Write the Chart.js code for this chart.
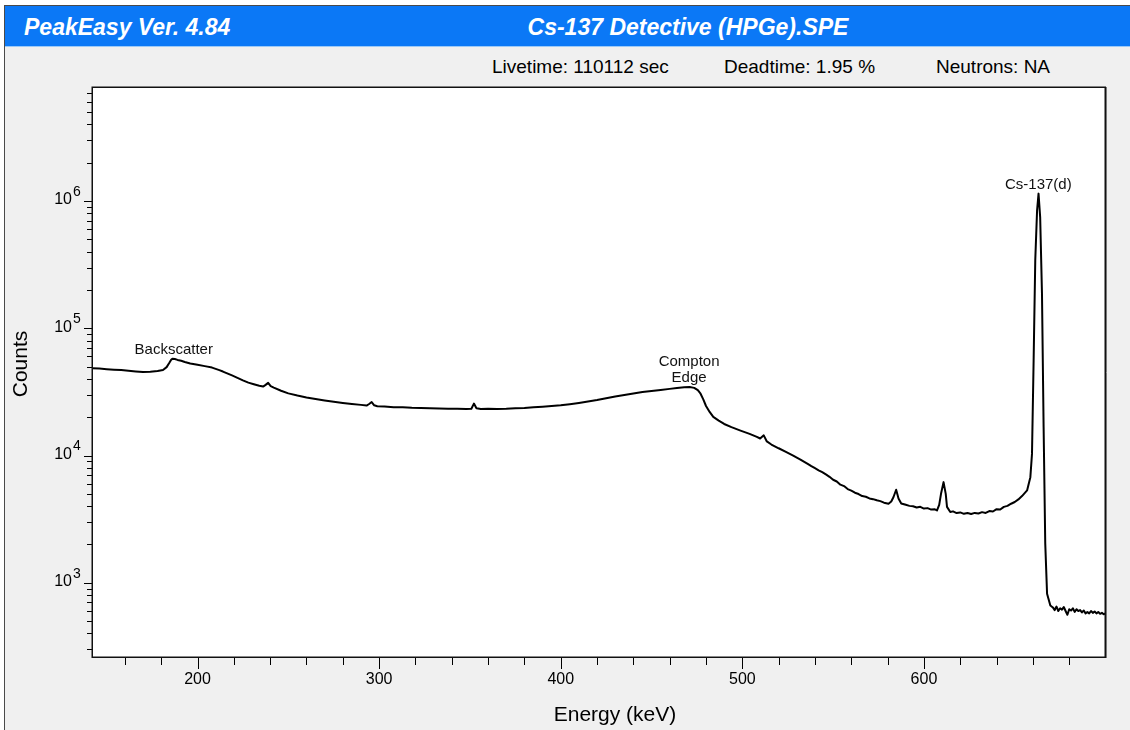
<!DOCTYPE html>
<html>
<head>
<meta charset="utf-8">
<title>Cs-137 Detective (HPGe).SPE</title>
<script src="https://cdn.jsdelivr.net/npm/chart.js@4.4.1/dist/chart.umd.min.js"></script>
<style>
  html, body { margin: 0; padding: 0; background: #fff; }
  body { width: 1130px; height: 730px; overflow: hidden; position: relative; font-family: "Liberation Sans", Arial, sans-serif; }
  #frame { position: absolute; left: 4px; top: 5px; width: 1126px; height: 725px; background: #f0f0f0; border-left: 1px solid #4a4a4a; border-top: 1px solid #4a4a4a; }
  #titlebar { position: absolute; left: 0; top: 0; right: 0; height: 40px; background: #0b78f6; border-bottom: 1px solid #9ccaf8; color: #fff; font-weight: bold; font-style: italic; font-size: 23px; z-index: 2; }
  #app-name { position: absolute; left: 19px; top: 8px; }
  #file-name { position: absolute; left: 433px; width: 500px; top: 8px; text-align: center; }
  .info { position: absolute; top: 50px; font-size: 19px; color: #000; }
  #chart-box { position: absolute; left: 0; top: 0; width: 1130px; height: 730px; z-index: 1; }
</style>
</head>
<body>
<div id="frame">
  <div id="titlebar">
    <span id="app-name">PeakEasy Ver. 4.84</span>
    <span id="file-name">Cs-137 Detective (HPGe).SPE</span>
  </div>
  <div class="info" style="left:487px">Livetime: 110112 sec</div>
  <div class="info" style="left:719px">Deadtime: 1.95 %</div>
  <div class="info" style="left:931px">Neutrons: NA</div>
</div>
<div id="chart-box"><canvas id="spectrum"></canvas></div>

<script>
// spectrum channels (keV) and counts
const energyKeV = [
  142, 146, 150, 154, 158, 162, 166, 170, 174, 178, 181, 183, 184.5, 185.5, 186.2, 187.5, 189, 191, 193, 196,
  200, 204, 208, 212, 214, 216, 219, 222, 225, 228, 231, 234, 236.1, 237.5, 238.9, 240.3, 242, 246, 250, 255,
  260, 265, 270, 275, 280, 285, 290, 293.1, 294.5, 295.9, 297.3, 299, 303, 308, 313, 318, 323, 328, 333, 338,
  343, 348, 350.8, 352.2, 353.6, 356, 360, 365, 370, 375, 380, 385, 390, 395, 400, 405, 410, 415, 420, 425,
  430, 435, 440, 445, 450, 455, 460, 464, 468, 471, 473.5, 475.5, 477, 478.5, 480, 482, 484, 487, 490, 494,
  499, 504, 508, 509.8, 511.8, 513.5, 516, 520, 524, 528, 532,
  536, 538, 540, 542, 544, 546, 548, 550, 552, 554, 556, 558, 560, 562, 564, 566, 568, 570, 572, 574,
  576, 578, 580.5, 582, 583.2, 584.7, 586, 587.5, 590, 592, 594, 596, 598, 600, 602, 604, 606, 607.2, 608.4, 609.4,
  610.8, 612, 612.7, 614.5, 616, 618, 620, 622, 624, 626, 628, 630, 632, 634, 636, 638, 640, 642, 644, 646,
  648, 650, 652, 654, 656.8, 658.6, 659.5, 660.4, 661.3, 662.3, 663.1, 664.0, 665.0, 665.9, 666.8, 667.8, 669.6, 671, 672, 673,
  674, 675, 676, 677, 678, 679, 680, 681, 682, 683, 684, 685, 686, 687, 688, 689, 690, 691, 692, 693,
  694, 695, 696, 697, 698, 699, 700
];
const counts = [
  48600, 48200, 47700, 47300, 46900, 46300, 45800, 45300, 45500, 46100, 47000, 49500, 53500, 56500, 57700, 57300, 56400, 55500, 54300, 52800,
  51600, 50400, 49100, 46900, 45700, 44400, 42600, 40800, 39000, 37400, 36300, 35300, 34800, 35900, 37200, 35100, 34200, 32300, 30800, 29600,
  28600, 27800, 27100, 26500, 25900, 25400, 25000, 24700, 25400, 26300, 24800, 24400, 24300, 24000, 23900, 23700, 23600, 23500, 23400, 23300,
  23300, 23200, 23300, 25600, 23500, 23200, 23300, 23200, 23300, 23500, 23600, 23900, 24200, 24500, 24800, 25300, 25900, 26600, 27300, 28200,
  29100, 29900, 30700, 31500, 32100, 32700, 33400, 34000, 34400, 34500, 34000, 32600, 30600, 27600, 24500, 22000, 20100, 18800, 17700, 16700,
  15700, 14800, 14000, 13600, 14400, 12900, 12200, 11400, 10700, 10000, 9300,
  8600, 8250, 7950, 7650, 7400, 7100, 6800, 6450, 6250, 5900, 5750, 5450, 5300, 5100, 4980, 4800, 4740, 4600, 4540, 4450,
  4380, 4260, 4180, 4350, 4700, 5380, 4600, 4200, 4100, 4020, 3990, 3900, 3950, 3830, 3860, 3760, 3780, 3700, 4100, 5000,
  6180, 5000, 3950, 3600, 3640, 3530, 3570, 3480, 3530, 3470, 3540, 3500, 3590, 3540, 3660, 3630, 3790, 3760, 3950, 4020,
  4180, 4310, 4520, 4800, 5320, 6760, 10300, 56000, 342000, 845000, 1143000, 748000, 187000, 16700, 2030, 819, 663, 640, 610, 650,
  600, 630, 615, 645, 600, 560, 620, 605, 630, 590, 620, 600, 610, 585, 605, 575, 590, 575, 600, 580,
  595, 575, 590, 570, 580, 565, 575
];

// axis ranges and ticks
const energyRange = [141.9, 699.7];
const countRange = [261, 7.87e6];
const energyTicks = [200, 300, 400, 500, 600];
const energyMinorStep = 20;
const countExponents = [3, 4, 5, 6];

// peak labels
const peakLabels = [['Backscatter'], ['Compton', 'Edge'], ['Cs-137(d)']];
const peakEnergies = [186.9, 470.7, 663];

const FONT = '"Liberation Sans", Arial, sans-serif';

const spectrumDecor = {
  id: 'spectrumDecor',
  beforeDraw(chart) {
    const { ctx, chartArea: a } = chart;
    ctx.save();
    ctx.fillStyle = '#fff';
    ctx.fillRect(a.left, a.top, a.width, a.height);
    ctx.restore();
  },
  afterDraw(chart) {
    const { ctx, chartArea: a, scales: { x, y } } = chart;
    ctx.save();
    ctx.strokeStyle = '#000';
    ctx.fillStyle = '#000';
    ctx.lineWidth = 1;

    // energy ticks, minor every 20 keV, labelled every 100
    ctx.beginPath();
    for (let e = Math.ceil(energyRange[0] / energyMinorStep) * energyMinorStep; e <= energyRange[1]; e += energyMinorStep) {
      const px = Math.round(x.getPixelForValue(e)) + 0.5;
      const len = energyTicks.includes(e) ? 12 : 8;
      ctx.moveTo(px, a.bottom);
      ctx.lineTo(px, a.bottom + len);
    }
    ctx.stroke();
    ctx.font = '16px ' + FONT;
    ctx.textAlign = 'center';
    ctx.textBaseline = 'middle';
    energyTicks.forEach(e => ctx.fillText(String(e), x.getPixelForValue(e), a.bottom + 23));

    // count ticks, 1..9 per decade
    ctx.beginPath();
    for (let p = 2; p <= 6; p++) {
      for (let m = 1; m <= 9; m++) {
        const v = m * Math.pow(10, p);
        if (v < countRange[0] || v > countRange[1]) continue;
        const py = Math.round(y.getPixelForValue(v)) + 0.5;
        const len = m === 1 ? 8 : 5;
        ctx.moveTo(a.left, py);
        ctx.lineTo(a.left - len, py);
      }
    }
    ctx.stroke();
    countExponents.forEach(p => {
      const py = y.getPixelForValue(Math.pow(10, p));
      ctx.font = '16px ' + FONT;
      ctx.textAlign = 'right';
      ctx.fillText('10', 72, py - 1);
      ctx.font = '14px ' + FONT;
      ctx.textAlign = 'left';
      ctx.fillText(String(p), 73, py - 9);
    });

    // plot frame
    ctx.lineWidth = 1.5;
    ctx.strokeStyle = '#111';
    ctx.strokeRect(a.left + 0.25, a.top + 0.25, a.width, a.height);
    ctx.lineWidth = 1;
    ctx.strokeStyle = '#777';
    ctx.beginPath();
    ctx.moveTo(a.right + 1.5, a.top);
    ctx.lineTo(a.right + 1.5, a.bottom + 1);
    ctx.stroke();

    // axis titles
    ctx.font = '21px ' + FONT;
    ctx.textAlign = 'center';
    ctx.textBaseline = 'middle';
    ctx.fillStyle = '#000';
    ctx.fillText('Energy (keV)', 615, 715);
    ctx.save();
    ctx.translate(21, 364);
    ctx.rotate(-Math.PI / 2);
    ctx.fillText('Counts', 0, 0);
    ctx.restore();

    // peak annotations just above the curve
    ctx.font = '15px ' + FONT;
    ctx.textBaseline = 'alphabetic';
    ctx.fillStyle = '#111';
    peakLabels.forEach((lines, i) => {
      let k = 0;
      energyKeV.forEach((e, j) => {
        if (Math.abs(e - peakEnergies[i]) < Math.abs(energyKeV[k] - peakEnergies[i])) k = j;
      });
      const px = x.getPixelForValue(peakEnergies[i]);
      const base = y.getPixelForValue(counts[k]) - 5;
      lines.forEach((t, n) => ctx.fillText(t, px, base - (lines.length - 1 - n) * 16));
    });
    ctx.restore();
  }
};

new Chart(document.getElementById('spectrum'), {
  type: 'line',
  data: {
    datasets: [{
      data: energyKeV.map((e, i) => ({ x: e, y: counts[i] })),
      borderColor: '#000',
      borderWidth: 2,
      borderJoinStyle: 'round',
      pointRadius: 0,
      tension: 0,
      fill: false
    }]
  },
  options: {
    animation: false,
    responsive: true,
    maintainAspectRatio: false,
    devicePixelRatio: 1,
    layout: { padding: { left: 92, top: 87, right: 25, bottom: 73 } },
    scales: {
      x: { type: 'linear', min: energyRange[0], max: energyRange[1], display: false },
      y: { type: 'logarithmic', min: countRange[0], max: countRange[1], display: false }
    },
    plugins: { legend: { display: false }, tooltip: { enabled: false } }
  },
  plugins: [spectrumDecor]
});
</script>
</body>
</html>
